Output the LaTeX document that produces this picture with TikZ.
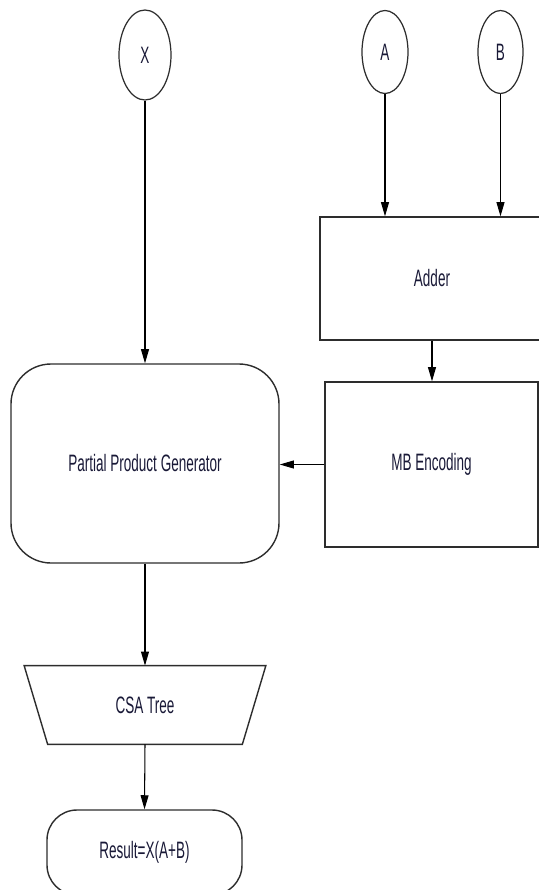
\documentclass[tikz,border=0pt]{standalone}
\usepackage{fontspec}
\setmainfont{Liberation Sans}[FakeStretch=0.57]
\definecolor{flowline}{RGB}{45, 45, 45}
\definecolor{flowtext}{RGB}{25, 25, 55}
\usetikzlibrary{shapes, arrows.meta, positioning, calc}

\begin{document}
\begin{tikzpicture}[
    font=\fontsize{13.5pt}{16pt}\selectfont,
    every node/.style={text=flowtext},
    block/.style={draw=flowline, line width=0.8pt, rectangle, inner sep=0pt},
    inport/.style={draw=flowline, line width=0.7pt, ellipse, inner sep=0pt},
    link/.style={draw=black, line width=0.6pt, -{Triangle[length=8pt, width=4.5pt]}}
  ]
  \clip (0,0) rectangle (10.78,-17.80);

  % inputs
  \node[inport, minimum width=1.04cm, minimum height=1.80cm] (X) at (2.90,-1.10) {X};
  \node[inport, minimum width=0.92cm, minimum height=1.66cm] (A) at (7.70,-1.04) {A};
  \node[inport, minimum width=0.90cm, minimum height=1.66cm] (B) at (10.01,-1.04) {B};

  % blocks
  \node[block, minimum width=4.48cm, minimum height=2.46cm] (Adder) at (8.64,-5.57) {Adder};
  \node[block, minimum width=4.26cm, minimum height=3.30cm] (MB) at (8.63,-9.29) {MB Encoding};
  \node[block, rounded corners=0.8cm, minimum width=5.36cm, minimum height=3.98cm] (PPG) at (2.90,-9.27) {Partial Product Generator};
  \node[minimum width=4.82cm, minimum height=1.56cm, inner sep=0pt] (CSA) at (2.90,-14.10) {CSA Tree};
  \draw[draw=flowline, line width=0.8pt] (CSA.north west) -- (CSA.north east)
    -- ($(CSA.south east)+(-0.47,0)$) -- ($(CSA.south west)+(0.47,0)$) -- cycle;
  \node[block, rounded corners=0.6cm, minimum width=3.90cm, minimum height=1.70cm] (Result) at (2.89,-17.05) {Result=X(A+B)};

  % connectors
  \draw[link] (X.south) -- (PPG.north);
  \draw[link] (A.south) -- (A.south |- Adder.north);
  \draw[link] (B.south) -- (B.south |- Adder.north);
  \draw[link] (Adder.south) -- (Adder.south |- MB.north);
  \draw[link] (MB.west) -- (MB.west -| PPG.east);
  \draw[link] (PPG.south) -- (CSA.north);
  \draw[link] (CSA.south) -- (Result.north);
\end{tikzpicture}
\end{document}
